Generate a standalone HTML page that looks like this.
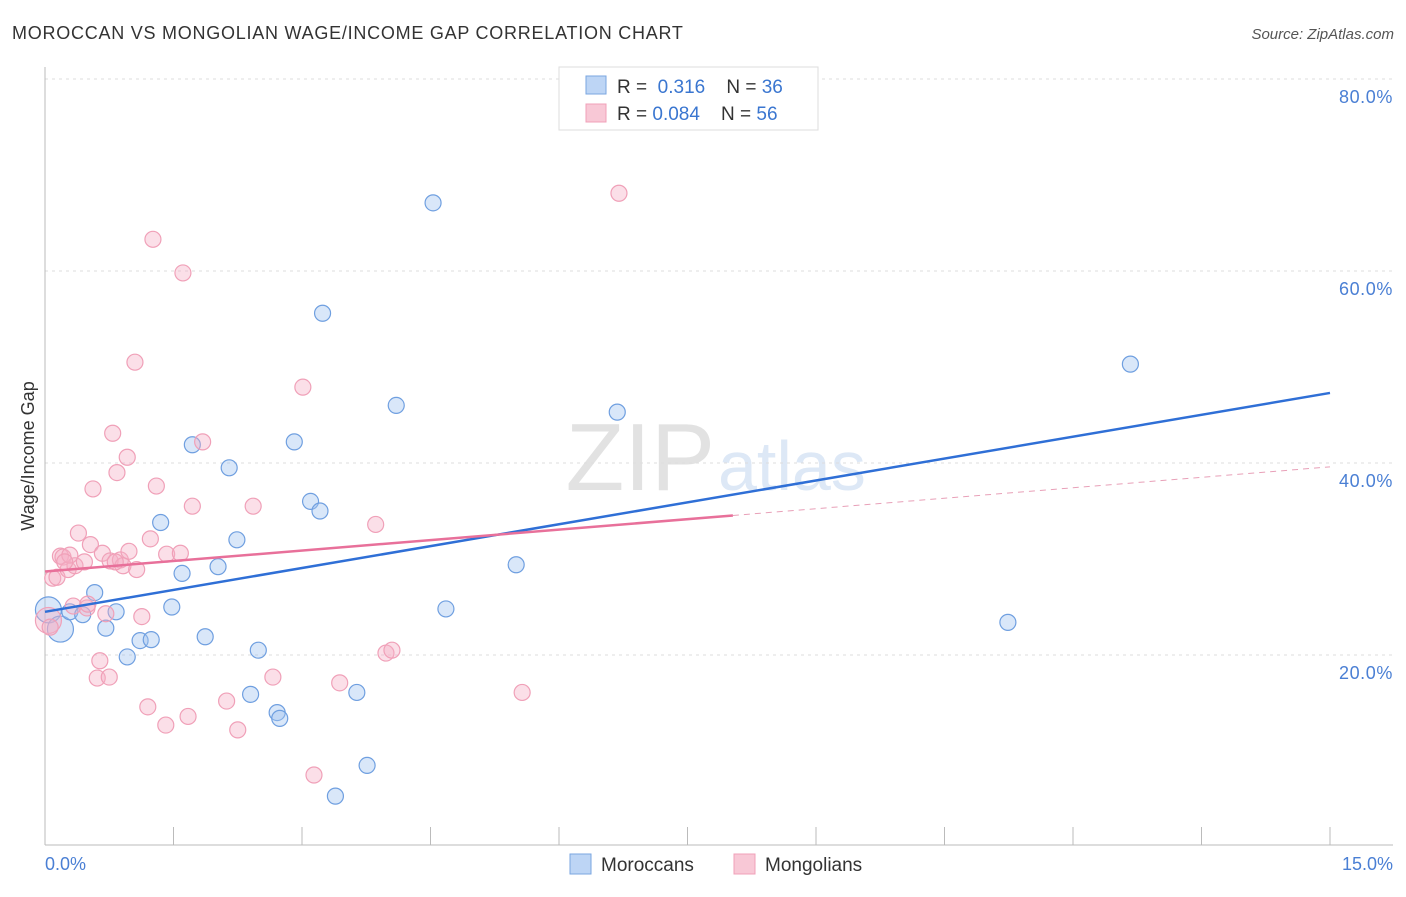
<!DOCTYPE html>
<html><head><meta charset="utf-8"><style>
body{margin:0;background:#fff;font-family:"Liberation Sans",sans-serif}
svg text{font-family:"Liberation Sans",sans-serif}
</style></head><body>
<svg id="chart" width="1406" height="892" xmlns="http://www.w3.org/2000/svg">
<text x="12" y="39" font-size="18" fill="#333" letter-spacing="0.75">MOROCCAN VS MONGOLIAN WAGE/INCOME GAP CORRELATION CHART</text>
<text x="1394" y="39" font-size="15" fill="#555" text-anchor="end" font-style="italic">Source: ZipAtlas.com</text>
<text x="715" y="490" font-size="96" fill="#e2e2e2" text-anchor="end" font-family="Liberation Serif">ZIP</text>
<text x="718" y="490" font-size="70" fill="#dde8f6">atlas</text>
<g id="grid"></g><g id="axes"></g><g id="pts"></g><g id="lines"></g>
<text transform="translate(34,456) rotate(-90)" font-size="18" fill="#333" text-anchor="middle">Wage/Income Gap</text>
<text x="45" y="870" font-size="18" fill="#4a7fd4">0.0%</text>
<text x="1393" y="870" font-size="18" fill="#4a7fd4" text-anchor="end">15.0%</text>
<g>
<rect x="559" y="67" width="259" height="63" fill="#fff" stroke="#ddd"/>
<rect x="586" y="76" width="20" height="18" fill="#bdd5f5" stroke="#7aa6e0"/>
<rect x="586" y="104" width="20" height="18" fill="#f8c8d6" stroke="#f0a0b8"/>
<text x="617" y="93" font-size="19" fill="#333">R = <tspan fill="#3a76d0">&#160;0.316</tspan>&#160;&#160;&#160;&#160;N = <tspan fill="#3a76d0">36</tspan></text>
<text x="617" y="120" font-size="19" fill="#333">R = <tspan fill="#3a76d0">0.084</tspan>&#160;&#160;&#160;&#160;N = <tspan fill="#3a76d0">56</tspan></text>
</g>
<g>
<rect x="570" y="854" width="21" height="20" fill="#bdd5f5" stroke="#7aa6e0"/>
<text x="601" y="871" font-size="19" fill="#333">Moroccans</text>
<rect x="734" y="854" width="21" height="20" fill="#f8c8d6" stroke="#f0a0b8"/>
<text x="765" y="871" font-size="19" fill="#333">Mongolians</text>
</g>
</svg>
<script>
const blueX=[0.04,0.18,0.29,0.44,0.58,0.71,0.83,0.96,1.11,1.24,1.35,1.48,1.60,1.72,1.87,2.02,2.15,2.24,2.40,2.49,2.71,2.74,2.91,3.10,3.21,3.24,3.39,3.64,3.76,4.10,4.53,4.68,5.50,6.68,11.24,12.67];
const blueY=[24.7,22.7,24.5,24.2,26.5,22.8,24.5,19.8,21.5,21.6,33.8,25.0,28.5,41.9,21.9,29.2,39.5,32.0,15.9,20.5,14.0,13.4,42.2,36.0,35.0,55.6,5.3,16.1,8.5,46.0,67.1,24.8,29.4,45.3,23.4,50.3];
const pinkX=[0.04,0.06,0.09,0.14,0.18,0.21,0.27,0.33,0.39,0.35,0.46,0.49,0.53,0.56,0.61,0.64,0.67,0.71,0.75,0.76,0.79,0.84,0.88,0.91,0.96,0.98,1.05,1.07,1.13,1.20,1.23,1.26,1.30,1.41,1.42,1.58,1.61,1.67,1.72,1.84,2.12,2.25,2.43,2.66,3.01,3.14,3.44,3.86,3.98,4.05,5.57,6.70,0.29,0.23,0.50,0.82];
const pinkY=[23.6,22.9,28.0,28.1,30.3,30.2,28.9,25.1,32.7,29.3,29.7,24.9,31.5,37.3,17.6,19.4,30.6,24.3,17.7,29.8,43.1,39.0,29.9,29.3,40.6,30.8,50.5,28.9,24.0,14.6,32.1,63.3,37.6,12.7,30.5,30.6,59.8,13.6,35.5,42.2,15.2,12.2,35.5,17.7,47.9,7.5,17.1,33.6,20.2,20.5,16.1,68.1,30.4,29.7,25.3,29.7];
const blueBig=[0,1];
const pinkBig=[0];
const blueFit=[24.5,47.3];
const pinkFit=[28.7,39.6];
const pinkSolidEnd=8.03;
const yTicks=[20,40,60,80];
const xTicks=[0,1.5,3,4.5,6,7.5,9,10.5,12,13.5,15];
const NS="http://www.w3.org/2000/svg";
const sx=v=>45+v/15*1285;
const sy=v=>847-v*9.6;
function mk(t,a,p){const e=document.createElementNS(NS,t);for(const k in a)e.setAttribute(k,a[k]);p.appendChild(e);return e;}
const grid=document.getElementById('grid'),axes=document.getElementById('axes'),pts=document.getElementById('pts'),lines=document.getElementById('lines');
yTicks.forEach(v=>{
 const l=mk('line',{x1:45,x2:1393,y1:sy(v),y2:sy(v),stroke:'#ddd','stroke-dasharray':'3,4'},grid);
 
 
 const t=mk('text',{x:1393,y:sy(v)+24,'font-size':18,fill:'#4a7fd4','text-anchor':'end','letter-spacing':0.6},grid);
 t.textContent=v.toFixed(1)+'%';
 
 
});
const xa=mk('line',{x1:45,x2:1393,y1:845,y2:845,stroke:'#bbb'},axes);


const ya=mk('line',{x1:45,x2:45,y1:67,y2:845,stroke:'#bbb'},axes);


xTicks.forEach(v=>{
 const t=mk('line',{x1:sx(v),x2:sx(v),y1:827,y2:845,stroke:'#bbb'},axes);
 
 
});
function dots(X,Y,big,fill,stroke,name){
 X.forEach((x,i)=>{
  const c=mk('circle',{cx:sx(x),cy:sy(Y[i]),r:big.includes(i)?13:8,fill:fill,stroke:stroke,'stroke-width':1.2},pts);
  
  
 });
}
dots(blueX,blueY,blueBig,'rgba(160,195,240,0.4)','#6f9fe0','moroccan-point');
dots(pinkX,pinkY,pinkBig,'rgba(245,175,198,0.4)','#f0a0b8','mongolian-point');
const bl=mk('line',{x1:sx(0),y1:sy(blueFit[0]),x2:sx(15),y2:sy(blueFit[1]),stroke:'#2f6fd6','stroke-width':2.5},lines);


const pe=pinkFit[0]+(pinkFit[1]-pinkFit[0])*pinkSolidEnd/15;
const pl=mk('line',{x1:sx(0),y1:sy(pinkFit[0]),x2:sx(pinkSolidEnd),y2:sy(pe),stroke:'#e8709a','stroke-width':2.5},lines);


const pd=mk('line',{x1:sx(pinkSolidEnd),y1:sy(pe),x2:sx(15),y2:sy(pinkFit[1]),stroke:'#e8a0b8','stroke-width':1,'stroke-dasharray':'6,5'},lines);


</script>
</body></html>
